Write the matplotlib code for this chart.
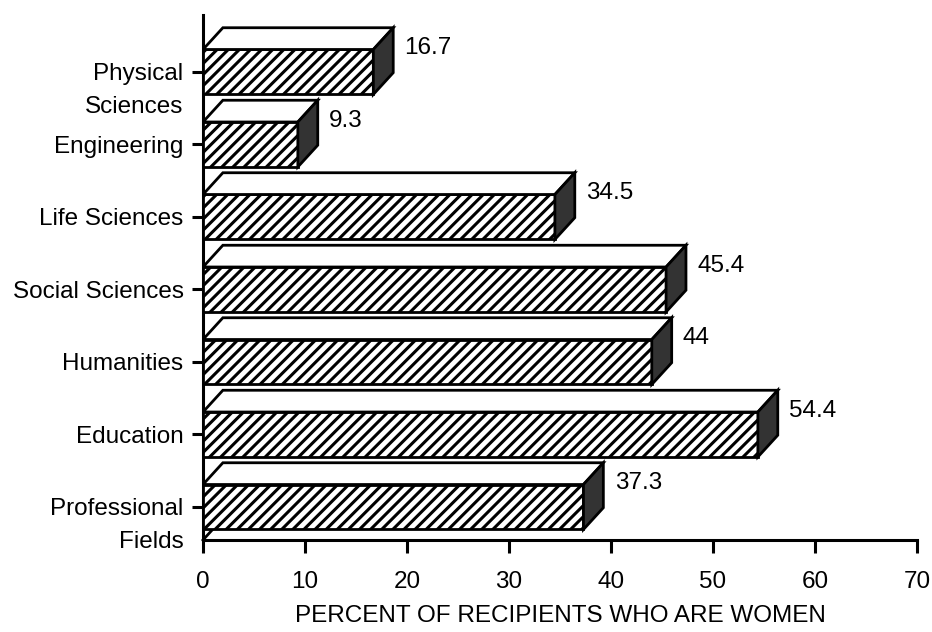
import matplotlib.pyplot as plt
from matplotlib.patches import Polygon
from matplotlib.transforms import ScaledTranslation

plt.rcParams['font.family'] = ['Liberation Sans', 'DejaVu Sans']
plt.rcParams['hatch.linewidth'] = 2.2

# bottom to top
fields = ['Professional\nFields', 'Education', 'Humanities', 'Social Sciences',
          'Life Sciences', 'Engineering', 'Physical\nSciences']
percent_women = [37.3, 54.4, 44, 45.4, 34.5, 9.3, 16.7]
value_labels = ['37.3', '54.4', '44', '45.4', '34.5', '9.3', '16.7']

bar_h = 0.62        # front face height
dx, dy = 1.95, 0.3  # 3d depth offset
fs = 17.5

fig = plt.figure(figsize=(9.32, 6.32), dpi=100)
ax = fig.add_axes([0.2178, 0.1456, 0.7661, 0.8307])

ypos = list(range(len(fields)))
ax.barh(ypos, percent_women, height=bar_h, color='white', edgecolor='black',
        linewidth=2, hatch='///', zorder=3)

for y, v, lab in zip(ypos, percent_women, value_labels):
    top = y + bar_h / 2
    bot = y - bar_h / 2
    # top face
    ax.add_patch(Polygon([(0, top), (dx, top + dy), (v + dx, top + dy), (v, top)],
                         closed=True, facecolor='white', edgecolor='black',
                         linewidth=2, zorder=3))
    # right side face
    ax.add_patch(Polygon([(v, top), (v + dx, top + dy), (v + dx, bot + dy), (v, bot)],
                         closed=True, facecolor='#333333', edgecolor='black',
                         linewidth=2, zorder=3))
    ax.text(v + dx + 1.1, y + 0.33, lab, fontsize=fs, va='center', ha='left')

# floor edge at origin
ylo = -0.455
ax.plot([0, dx * 0.8], [ylo, ylo + dy * 0.8], color='black', lw=2, clip_on=False)

ax.set_xlim(0, 70)
ax.set_ylim(ylo, 6.786)
ax.set_xticks(range(0, 71, 10))
ax.set_yticks(ypos)
ax.set_yticklabels(fields, linespacing=1.6)

for s in ['top', 'right']:
    ax.spines[s].set_visible(False)
for s in ['left', 'bottom']:
    ax.spines[s].set_linewidth(2.2)

ax.tick_params(axis='x', direction='out', length=9, width=2.2, pad=13, labelsize=fs)
ax.tick_params(axis='y', direction='out', length=8, width=2.2, pad=6, labelsize=fs)
ax.set_xlabel('PERCENT OF RECIPIENTS WHO ARE WOMEN', fontsize=fs, labelpad=9)

# two-line labels: first line sits on the tick
for t in ax.get_yticklabels():
    if '\n' in t.get_text():
        t.set_transform(t.get_transform() + ScaledTranslation(0, -0.11, fig.dpi_scale_trans))

fig.savefig('out.png', dpi=100)
